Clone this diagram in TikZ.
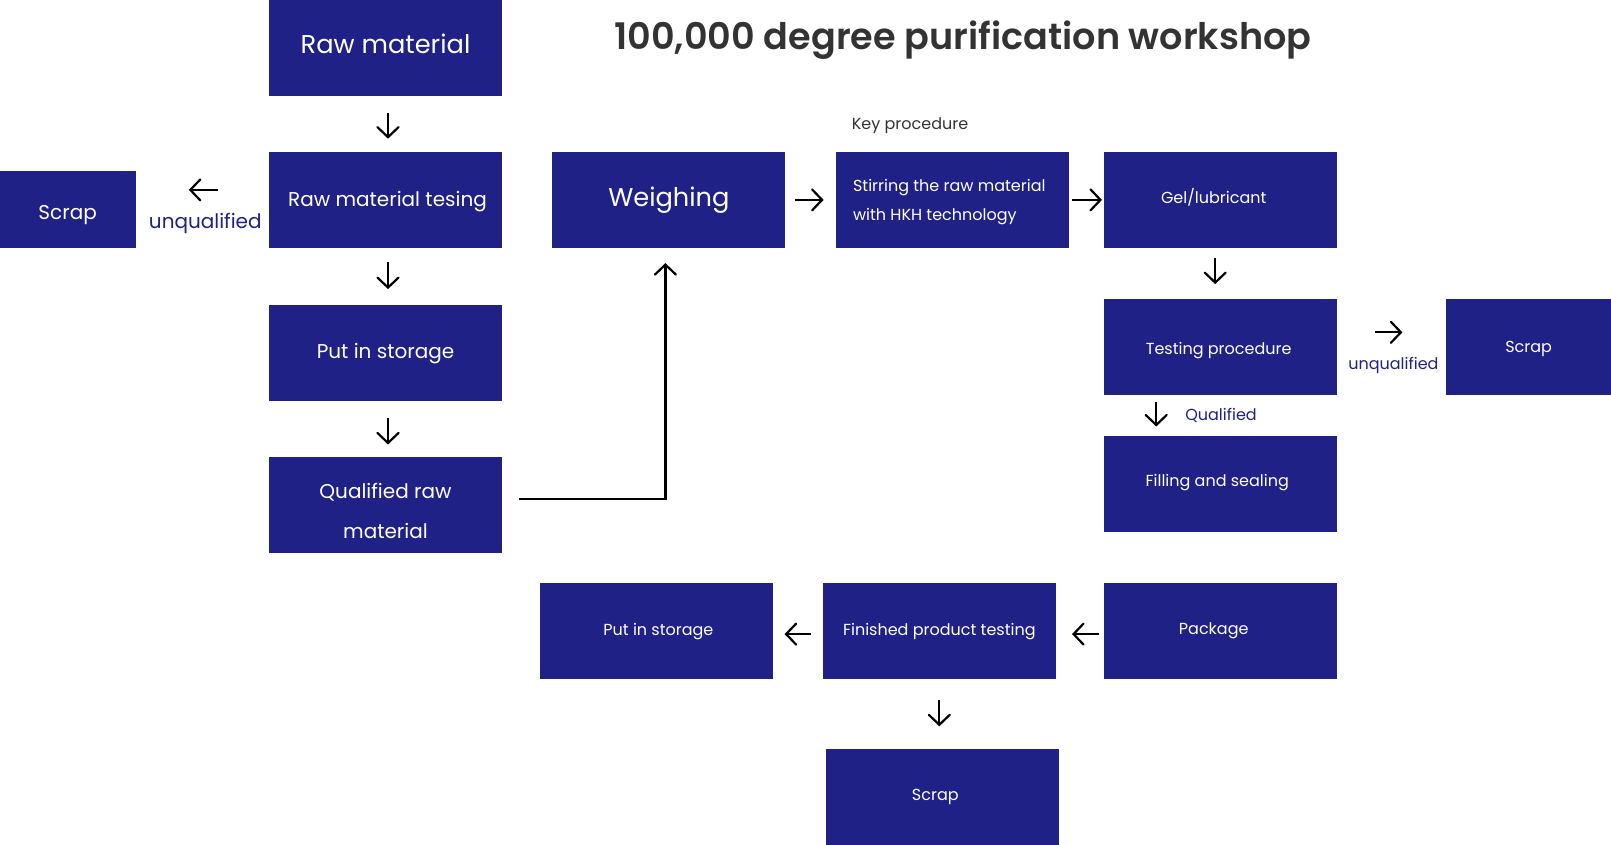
\documentclass[tikz,border=0pt]{standalone}
\usepackage{fontspec}
\setmainfont{Poppins}
\newfontfamily\titlefont{Poppins SemiBold}
\usepackage{tikz}
\usetikzlibrary{positioning, arrows.meta, calc}
\definecolor{navy}{RGB}{31,33,135}
\definecolor{titlegray}{RGB}{51,51,51}
\newcommand{\nudge}[3]{\raisebox{#2}[\height][\depth]{\hspace*{#1}#3\hspace*{-#1}}}
\tikzset{
  stepbox/.style={rectangle, minimum width=233pt, minimum height=96pt, inner sep=0pt, text centered, fill=navy, text=white},
  bigtext/.style={font=\fontsize{25.7}{32}\selectfont},
  midtext/.style={font=\fontsize{20}{40}\selectfont},
  smalltext/.style={font=\fontsize{16}{29}\selectfont},
  arrow/.style={line width=2.2pt, -{Straight Barb[length=10pt,width=21pt,line cap=round]}},
  note/.style={text=navy, inner sep=0pt}
}
\begin{document}
\begin{tikzpicture}[x=1pt, y=-1pt]
    \useasboundingbox (0,0) rectangle (1611,845);

    \node (title) at (963,40) [font=\fontsize{36.6}{40}\titlefont, text=titlegray] {100,000 degree purification workshop};

    \node (rawmat) at (385.5,48.5) [stepbox, bigtext] {\nudge{0pt}{5pt}{Raw material}};
    \node (rawtest) [stepbox, midtext, below=55pt of rawmat] {\nudge{2pt}{-2pt}{Raw material tesing}};
    \node (store1) [stepbox, midtext, below=57pt of rawtest] {Put in storage};
    \node (qualraw) [stepbox, midtext, below=55pt of store1] {\nudge{0pt}{-6pt}{\begin{tabular}{@{}c@{}}Qualified raw\\material\end{tabular}}};
    \node (scrapl) [stepbox, midtext, minimum width=136pt, minimum height=77pt, left=133pt of rawtest, yshift=-9.5pt] {\nudge{0pt}{-6pt}{Scrap}};

    \node (weigh) [stepbox, bigtext, right=50pt of rawtest] {Weighing};
    \node (stir) [stepbox, smalltext, right=50pt of weigh] {\nudge{-3pt}{0pt}{\begin{tabular}{@{}l@{}}Stirring the raw material\\with HKH technology\end{tabular}}};
    \node (gel) [stepbox, smalltext, right=35pt of stir] {\nudge{-7pt}{3pt}{Gel/lubricant}};
    \node (testproc) [stepbox, smalltext, below=51pt of gel] {\nudge{-2pt}{-3pt}{Testing procedure}};
    \node (scrapr) [stepbox, smalltext, minimum width=166pt, right=108pt of testproc] {\nudge{0pt}{-2pt}{Scrap}};
    \node (fill) [stepbox, smalltext, below=40pt of testproc] {\nudge{-3.5pt}{1pt}{Filling and sealing}};

    \node (pack) [stepbox, smalltext, below=51pt of fill] {\nudge{-7pt}{0pt}{Package}};
    \node (finish) [stepbox, smalltext, left=48pt of pack] {Finished product testing};
    \node (store2) [stepbox, smalltext, left=49pt of finish] {\nudge{1.5pt}{0pt}{Put in storage}};
    \node (scrapb) [stepbox, smalltext, below=69pt of finish, xshift=3pt] {\nudge{-7pt}{0pt}{Scrap}};

    \node (keyproc) at (910,126) [smalltext, text=titlegray] {Key procedure};

    \draw [arrow, shorten <=16pt, shorten >=13pt] ([xshift=2.5pt]rawmat.south) -- ([xshift=2.5pt]rawtest.north);
    \draw [arrow, shorten <=14pt, shorten >=16pt] ([xshift=2.5pt]rawtest.south) -- ([xshift=2.5pt]store1.north);
    \draw [arrow, shorten <=16pt, shorten >=12pt] ([xshift=2.5pt]store1.south) -- ([xshift=2.5pt]qualraw.north);
    \draw [arrow, shorten <=51pt, shorten >=53pt] ([yshift=10pt]rawtest.west) -- ([yshift=19.5pt]scrapl.east)
        node [note, midtext, midway, below=22pt, xshift=3pt] {unqualified};

    \draw [arrow, shorten <=9pt, shorten >=12pt] (weigh) -- (stir);
    \draw [arrow, shorten <=3pt, shorten >=2pt] (stir) -- (gel);
    \draw [arrow, shorten <=10pt, shorten >=15pt] ([xshift=-5.5pt]gel.south) -- ([xshift=-5.5pt]testproc.north);
    \draw [arrow, shorten <=38pt, shorten >=43pt] ([yshift=15pt]testproc.east) -- ([yshift=15pt]scrapr.west)
        node [note, smalltext, midway, below=24pt, xshift=2pt] {unqualified};
    \draw [arrow, shorten <=6pt, shorten >=9pt] ([xshift=-64.5pt]testproc.south) -- ([xshift=-64.5pt]fill.north)
        node [note, smalltext, midway, right=28pt] {Qualified};

    \draw [arrow, shorten <=5pt, shorten >=16pt] ([yshift=-3pt]pack.west) -- ([yshift=-3pt]finish.east);
    \draw [arrow, shorten <=12pt, shorten >=11pt] ([yshift=-3pt]finish.west) -- ([yshift=-3pt]store2.east);
    \draw [arrow, shorten <=21pt, shorten >=22pt] (finish) -- (finish |- scrapb.north);

    \draw [arrow, shorten <=17pt, shorten >=15pt] ([yshift=5.5pt]qualraw.east) -| ([xshift=-3.5pt]weigh.south);
\end{tikzpicture}
\end{document}
